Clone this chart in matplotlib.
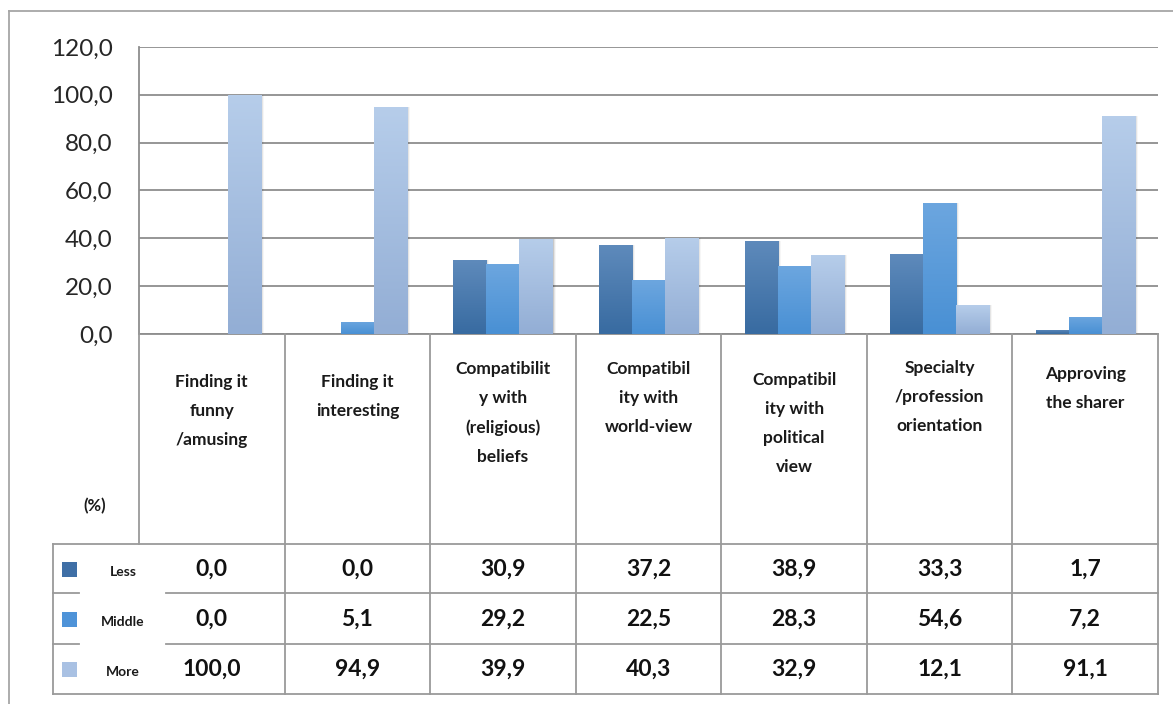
import numpy as np
import matplotlib
matplotlib.use("Agg")
import matplotlib.pyplot as plt
from matplotlib import transforms
from matplotlib.colors import LinearSegmentedColormap
from matplotlib.lines import Line2D
from matplotlib.patches import Rectangle

plt.rcParams['font.family'] = ['Lato', 'DejaVu Sans']

# Data (%)
categories = ["Finding it\nfunny\n/amusing", "Finding it\ninteresting",
              "Compatibilit\ny with\n(religious)\nbeliefs", "Compatibil\nity with\nworld-view",
              "Compatibil\nity with\npolitical\nview", "Specialty\n/profession\norientation",
              "Approving\nthe sharer"]
series_names = ["Less", "Middle", "More"]
less = [0.0, 0.0, 30.9, 37.2, 38.9, 33.3, 1.7]
middle = [0.0, 5.1, 29.2, 22.5, 28.3, 54.6, 7.2]
more = [100.0, 94.9, 39.9, 40.3, 32.9, 12.1, 91.1]
yticks = [0, 20, 40, 60, 80, 100, 120]

# bar colours, (top, bottom) of the gradient
grads = [("#5e8abb", "#386ba1"), ("#6ca6df", "#4990d4"), ("#b6cdea", "#93aed5")]
legend_colors = ["#3f6fa6", "#4e93d8", "#a9c1e3"]

W, H = 1173, 704
fig = plt.figure(figsize=(W / 100, H / 100), dpi=100)

def fx(px):
    return px / W

def fy(py):
    return 1 - py / H

ax = fig.add_axes([fx(139), fy(334), fx(1158) - fx(139), fy(47) - fy(334)])

def fmt(v):
    return f"{v:.1f}".replace(".", ",")

x = np.arange(len(categories))
bw = 0.227
for i, vals in enumerate([less, middle, more]):
    top, bot = grads[i]
    cmap = LinearSegmentedColormap.from_list("g%d" % i, [bot, top])
    bars = ax.bar(x + (i - 1) * bw, vals, bw, color=bot, linewidth=0, zorder=3)
    for b in bars:
        h = b.get_height()
        if h <= 0:
            continue
        x0, y0 = b.get_xy()
        w = b.get_width()
        # soft shadow on the right
        for k, a in enumerate([0.12, 0.07, 0.035]):
            ax.add_patch(Rectangle((x0 + w, y0), 0.007 * (k + 1), h, color="k",
                                   alpha=a, lw=0, zorder=2.5))
        g = np.linspace(0, 1, 64).reshape(-1, 1)
        im = ax.imshow(g, cmap=cmap, extent=(x0, x0 + w, y0, y0 + h), origin="lower",
                       aspect="auto", zorder=3.5, interpolation="bilinear")
        im.set_clip_path(b)

ax.set_xlim(-0.5, len(categories) - 0.5)
ax.set_ylim(0, 120)
ax.set_yticks(yticks)
ax.set_yticklabels([fmt(v) for v in yticks])
ax.set_xticks([])
ax.tick_params(axis="y", length=0, pad=19, labelsize=17.5, labelcolor="#262626")
ax.yaxis.grid(True, color="#8e8e8e", lw=1.3)
ax.set_axisbelow(True)
for s in ["top", "right"]:
    ax.spines[s].set_visible(False)
ax.spines["left"].set_color("#8e8e8e")
ax.spines["bottom"].set_color("#8e8e8e")
ax.spines["left"].set_linewidth(1.3)
ax.spines["bottom"].set_linewidth(1.3)

line_kw = dict(color="#9a9a9a", lw=1.3)
tr = transforms.blended_transform_factory(ax.transData, fig.transFigure)

# table column borders
for k in range(1, len(categories) + 1):
    fig.add_artist(Line2D([k - 0.5, k - 0.5], [fy(334), fy(694)], transform=tr, **line_kw))
fig.add_artist(Line2D([-0.5, -0.5], [fy(334), fy(544)], transform=tr, **line_kw))
fig.add_artist(Line2D([fx(53), fx(53)], [fy(544), fy(694)], **line_kw))

# table row borders
fig.add_artist(Line2D([fx(53), fx(1158)], [fy(544), fy(544)], **line_kw))
for yy in [593, 644]:
    fig.add_artist(Line2D([fx(53), fx(79)], [fy(yy), fy(yy)], **line_kw))
    fig.add_artist(Line2D([fx(166), fx(1158)], [fy(yy), fy(yy)], **line_kw))
fig.add_artist(Line2D([fx(53), fx(1158)], [fy(694), fy(694)], **line_kw))

# outer chart frame
fig.add_artist(Line2D([fx(9), fx(9)], [fy(11), 0], color="#a6a6a6", lw=1.3))
fig.add_artist(Line2D([fx(9), 1], [fy(11), fy(11)], color="#a6a6a6", lw=1.3))

# column headers
header_top = [374, 374, 361, 361, 372, 360, 366]
for i, lab in enumerate(categories):
    ax.text(i, fy(header_top[i]), lab, transform=tr, ha="center", va="top",
            fontsize=12.5, fontweight="bold", linespacing=2.0, color="#1a1a1a")

# value rows with legend keys
row_y = [569, 619, 669]
for r, vals in enumerate([less, middle, more]):
    for i, v in enumerate(vals):
        ax.text(i, fy(row_y[r]), fmt(v), transform=tr, ha="center", va="center",
                fontsize=16.5, fontweight="bold", color="#111111")
    fig.add_artist(Rectangle((fx(62), fy(row_y[r] + 8)), fx(15), 15 / H,
                             color=legend_colors[r], lw=0))
    fig.text(fx(123), fy(row_y[r] + 3), series_names[r], ha="center", va="center",
             fontsize=10, fontweight="bold", color="#1a1a1a")

fig.text(fx(95), fy(506), "(%)", ha="center", va="center", fontsize=12,
         fontweight="bold", color="#1a1a1a")

fig.savefig("out.png", dpi=100)
